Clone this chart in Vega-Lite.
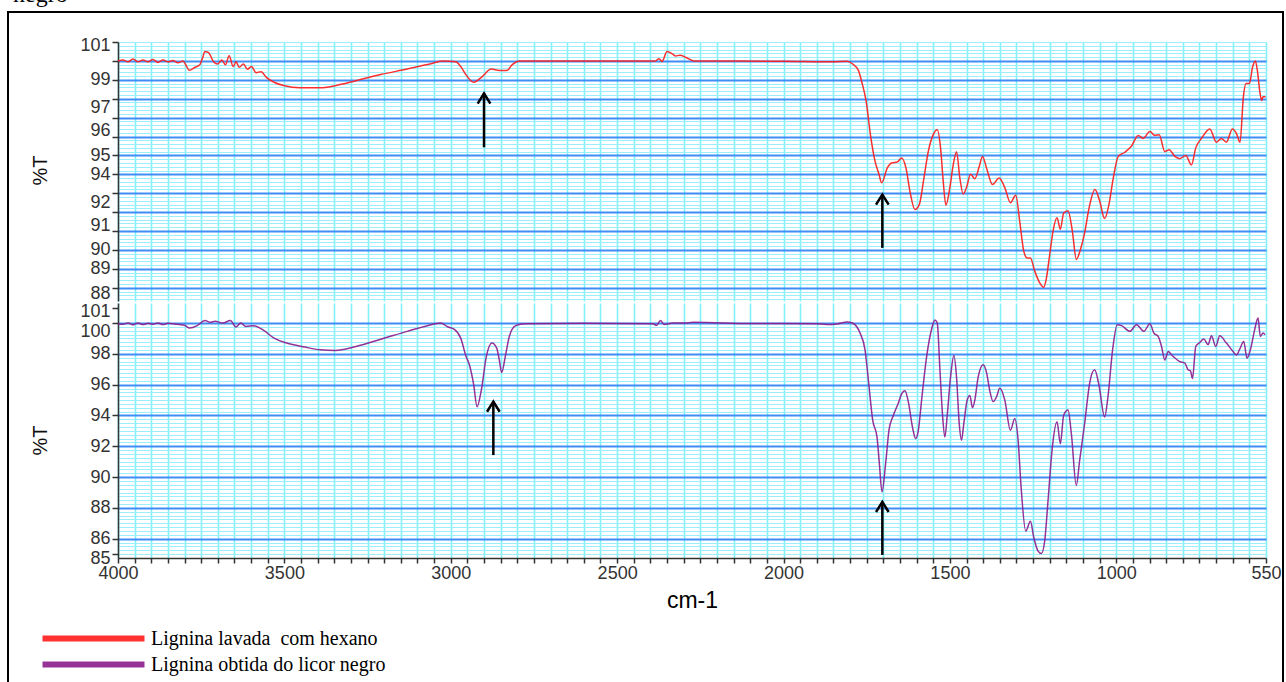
{
  "$schema": "https://vega.github.io/schema/vega-lite/v6.json",
  "width": 1275,
  "height": 671,
  "autosize": {"type": "none"},
  "padding": {"left": 8, "top": 12, "right": 3, "bottom": 0},
  "background": "white",
  "title": {"text": "negro", "anchor": "start", "frame": "group", "font": "Liberation Serif", "fontSize": 24, "fontWeight": "normal", "color": "black", "offset": 0, "baseline": "alphabetic", "dx": 5, "dy": 14},
  "config": {
    "view": {"stroke": "black", "strokeWidth": 2, "fill": "white"},
    "axis": {"labelFont": "Liberation Sans", "labelFontSize": 18, "labelColor": "#333", "titleFont": "Liberation Sans", "titleFontWeight": "normal", "titleColor": "#111", "tickColor": "#333", "domainColor": "#333", "labelOverlap": false, "labelFlush": false}
  },
  "datasets": {
    "top": [
      {"wn":4000,"T":100.0},{"wn":3985,"T":100.05},{"wn":3970,"T":99.95},{"wn":3955,"T":100.1},{"wn":3940,"T":99.95},{"wn":3925,"T":100.05},{"wn":3910,"T":99.95},{"wn":3895,"T":100.08},{"wn":3880,"T":99.92},{"wn":3865,"T":100.05},{"wn":3850,"T":99.95},{"wn":3835,"T":100.02},{"wn":3820,"T":99.9},{"wn":3805,"T":100.0},{"wn":3785,"T":99.5},{"wn":3770,"T":99.65},{"wn":3754,"T":99.8},{"wn":3745,"T":100.2},{"wn":3739,"T":100.5},{"wn":3728,"T":100.44},{"wn":3713,"T":99.96},{"wn":3700,"T":99.84},{"wn":3688,"T":100.05},{"wn":3677,"T":99.8},{"wn":3666,"T":100.27},{"wn":3654,"T":99.7},{"wn":3645,"T":99.95},{"wn":3636,"T":99.66},{"wn":3623,"T":99.84},{"wn":3611,"T":99.56},{"wn":3599,"T":99.7},{"wn":3585,"T":99.38},{"wn":3570,"T":99.43},{"wn":3554,"T":99.13},{"wn":3531,"T":98.87},{"wn":3500,"T":98.69},{"wn":3454,"T":98.58},{"wn":3393,"T":98.58},{"wn":3347,"T":98.69},{"wn":3285,"T":98.95},{"wn":3208,"T":99.29},{"wn":3131,"T":99.57},{"wn":3054,"T":99.88},{"wn":3024,"T":100.0},{"wn":2985,"T":99.96},{"wn":2970,"T":99.7},{"wn":2954,"T":99.26},{"wn":2931,"T":98.87},{"wn":2908,"T":99.13},{"wn":2878,"T":99.57},{"wn":2854,"T":99.49},{"wn":2831,"T":99.49},{"wn":2816,"T":99.79},{"wn":2793,"T":100.0},{"wn":2600,"T":100.0},{"wn":2385,"T":100.0},{"wn":2374,"T":100.12},{"wn":2365,"T":99.97},{"wn":2350,"T":100.5},{"wn":2334,"T":100.37},{"wn":2324,"T":100.26},{"wn":2311,"T":100.3},{"wn":2293,"T":100.18},{"wn":2270,"T":100.0},{"wn":2000,"T":99.98},{"wn":1850,"T":99.95},{"wn":1809,"T":99.98},{"wn":1793,"T":99.85},{"wn":1775,"T":99.5},{"wn":1765,"T":98.9},{"wn":1752,"T":97.9},{"wn":1738,"T":96.0},{"wn":1725,"T":94.7},{"wn":1713,"T":94.0},{"wn":1705,"T":93.55},{"wn":1688,"T":94.34},{"wn":1675,"T":94.6},{"wn":1658,"T":94.65},{"wn":1645,"T":94.87},{"wn":1632,"T":94.34},{"wn":1620,"T":93.1},{"wn":1605,"T":92.14},{"wn":1592,"T":92.4},{"wn":1578,"T":93.8},{"wn":1565,"T":95.2},{"wn":1550,"T":96.1},{"wn":1538,"T":96.36},{"wn":1528,"T":95.4},{"wn":1520,"T":93.63},{"wn":1512,"T":92.37},{"wn":1500,"T":93.3},{"wn":1490,"T":94.5},{"wn":1480,"T":95.2},{"wn":1470,"T":93.8},{"wn":1460,"T":92.96},{"wn":1450,"T":93.3},{"wn":1438,"T":94.0},{"wn":1425,"T":93.77},{"wn":1412,"T":94.4},{"wn":1402,"T":94.95},{"wn":1390,"T":94.34},{"wn":1372,"T":93.46},{"wn":1352,"T":93.8},{"wn":1335,"T":93.3},{"wn":1318,"T":92.5},{"wn":1302,"T":92.9},{"wn":1290,"T":91.5},{"wn":1278,"T":89.94},{"wn":1268,"T":89.58},{"wn":1258,"T":89.58},{"wn":1245,"T":88.88},{"wn":1230,"T":88.26},{"wn":1218,"T":88.03},{"wn":1210,"T":88.5},{"wn":1200,"T":89.76},{"wn":1190,"T":91.0},{"wn":1178,"T":91.7},{"wn":1168,"T":91.1},{"wn":1158,"T":91.96},{"wn":1145,"T":92.08},{"wn":1132,"T":91.0},{"wn":1120,"T":89.5},{"wn":1108,"T":90.0},{"wn":1095,"T":90.9},{"wn":1082,"T":92.2},{"wn":1064,"T":93.2},{"wn":1050,"T":92.6},{"wn":1035,"T":91.66},{"wn":1022,"T":92.4},{"wn":1009,"T":93.8},{"wn":994,"T":94.95},{"wn":974,"T":95.17},{"wn":954,"T":95.5},{"wn":934,"T":96.06},{"wn":919,"T":95.9},{"wn":899,"T":96.27},{"wn":884,"T":96.06},{"wn":871,"T":96.1},{"wn":854,"T":95.2},{"wn":841,"T":95.3},{"wn":824,"T":94.95},{"wn":809,"T":94.83},{"wn":791,"T":95.0},{"wn":774,"T":94.5},{"wn":761,"T":95.4},{"wn":744,"T":95.9},{"wn":719,"T":96.4},{"wn":699,"T":95.7},{"wn":684,"T":95.9},{"wn":669,"T":95.7},{"wn":651,"T":96.4},{"wn":639,"T":96.17},{"wn":628,"T":95.7},{"wn":618,"T":98.1},{"wn":610,"T":98.8},{"wn":600,"T":98.8},{"wn":590,"T":99.7},{"wn":582,"T":100.0},{"wn":576,"T":99.5},{"wn":568,"T":98.3},{"wn":563,"T":97.9},{"wn":559,"T":98.1},{"wn":551,"T":98.1}
    ],
    "bottom": [
      {"wn":4000,"T":99.96},{"wn":3985,"T":99.92},{"wn":3970,"T":100.0},{"wn":3955,"T":99.88},{"wn":3940,"T":100.0},{"wn":3925,"T":99.9},{"wn":3910,"T":99.98},{"wn":3895,"T":99.92},{"wn":3880,"T":100.0},{"wn":3865,"T":99.9},{"wn":3850,"T":99.98},{"wn":3835,"T":99.95},{"wn":3815,"T":99.9},{"wn":3800,"T":99.85},{"wn":3785,"T":99.67},{"wn":3762,"T":99.83},{"wn":3739,"T":100.17},{"wn":3723,"T":100.05},{"wn":3708,"T":100.12},{"wn":3685,"T":100.0},{"wn":3662,"T":100.17},{"wn":3646,"T":99.74},{"wn":3631,"T":100.0},{"wn":3616,"T":99.78},{"wn":3593,"T":99.83},{"wn":3562,"T":99.52},{"wn":3531,"T":99.02},{"wn":3493,"T":98.7},{"wn":3439,"T":98.44},{"wn":3393,"T":98.26},{"wn":3347,"T":98.22},{"wn":3285,"T":98.48},{"wn":3208,"T":98.96},{"wn":3131,"T":99.46},{"wn":3070,"T":99.83},{"wn":3031,"T":100.0},{"wn":3008,"T":99.74},{"wn":2990,"T":99.6},{"wn":2970,"T":99.02},{"wn":2954,"T":97.83},{"wn":2944,"T":97.29},{"wn":2931,"T":95.98},{"wn":2921,"T":94.57},{"wn":2908,"T":95.66},{"wn":2893,"T":97.83},{"wn":2876,"T":98.7},{"wn":2862,"T":98.37},{"wn":2854,"T":97.6},{"wn":2847,"T":96.79},{"wn":2836,"T":97.83},{"wn":2824,"T":99.13},{"wn":2805,"T":99.83},{"wn":2777,"T":99.96},{"wn":2600,"T":99.98},{"wn":2393,"T":99.96},{"wn":2381,"T":99.85},{"wn":2370,"T":100.17},{"wn":2359,"T":99.9},{"wn":2332,"T":100.0},{"wn":2301,"T":100.0},{"wn":2270,"T":100.05},{"wn":2100,"T":99.97},{"wn":1901,"T":99.96},{"wn":1870,"T":99.9},{"wn":1839,"T":99.94},{"wn":1809,"T":100.07},{"wn":1793,"T":100.0},{"wn":1770,"T":99.35},{"wn":1755,"T":98.26},{"wn":1744,"T":96.1},{"wn":1732,"T":93.7},{"wn":1719,"T":92.6},{"wn":1712,"T":90.9},{"wn":1704,"T":89.04},{"wn":1693,"T":90.9},{"wn":1683,"T":93.05},{"wn":1670,"T":94.0},{"wn":1655,"T":94.8},{"wn":1645,"T":95.4},{"wn":1635,"T":95.6},{"wn":1625,"T":94.9},{"wn":1612,"T":93.2},{"wn":1603,"T":92.5},{"wn":1595,"T":93.0},{"wn":1585,"T":95.0},{"wn":1570,"T":97.8},{"wn":1555,"T":99.6},{"wn":1545,"T":100.2},{"wn":1538,"T":100.0},{"wn":1530,"T":97.0},{"wn":1522,"T":94.0},{"wn":1515,"T":92.6},{"wn":1508,"T":94.0},{"wn":1498,"T":96.5},{"wn":1488,"T":97.9},{"wn":1480,"T":96.5},{"wn":1472,"T":93.5},{"wn":1465,"T":92.4},{"wn":1458,"T":93.5},{"wn":1448,"T":95.0},{"wn":1440,"T":95.3},{"wn":1432,"T":94.5},{"wn":1425,"T":95.0},{"wn":1415,"T":96.5},{"wn":1400,"T":97.3},{"wn":1390,"T":96.8},{"wn":1380,"T":95.6},{"wn":1370,"T":94.9},{"wn":1360,"T":95.2},{"wn":1350,"T":95.76},{"wn":1335,"T":95.0},{"wn":1318,"T":93.04},{"wn":1305,"T":93.8},{"wn":1295,"T":92.4},{"wn":1286,"T":89.35},{"wn":1272,"T":86.5},{"wn":1258,"T":87.13},{"wn":1248,"T":86.1},{"wn":1235,"T":85.2},{"wn":1225,"T":85.04},{"wn":1215,"T":85.87},{"wn":1205,"T":88.48},{"wn":1192,"T":91.96},{"wn":1178,"T":93.59},{"wn":1168,"T":92.17},{"wn":1158,"T":94.02},{"wn":1145,"T":94.35},{"wn":1135,"T":92.83},{"wn":1120,"T":89.46},{"wn":1110,"T":91.09},{"wn":1095,"T":93.48},{"wn":1080,"T":96.09},{"wn":1065,"T":96.96},{"wn":1052,"T":95.98},{"wn":1035,"T":93.9},{"wn":1025,"T":95.2},{"wn":1011,"T":98.26},{"wn":997,"T":99.89},{"wn":984,"T":99.83},{"wn":959,"T":99.46},{"wn":939,"T":99.89},{"wn":917,"T":99.46},{"wn":899,"T":99.96},{"wn":887,"T":99.35},{"wn":874,"T":99.13},{"wn":864,"T":98.48},{"wn":854,"T":97.6},{"wn":844,"T":98.15},{"wn":829,"T":97.83},{"wn":809,"T":97.5},{"wn":794,"T":97.4},{"wn":784,"T":96.96},{"wn":777,"T":96.9},{"wn":771,"T":96.4},{"wn":761,"T":98.48},{"wn":749,"T":98.74},{"wn":737,"T":98.96},{"wn":724,"T":98.6},{"wn":714,"T":99.17},{"wn":701,"T":98.48},{"wn":689,"T":99.17},{"wn":669,"T":98.7},{"wn":649,"T":98.15},{"wn":639,"T":97.93},{"wn":629,"T":98.3},{"wn":617,"T":98.8},{"wn":607,"T":97.72},{"wn":597,"T":98.26},{"wn":584,"T":99.57},{"wn":574,"T":100.33},{"wn":567,"T":99.13},{"wn":559,"T":99.35},{"wn":553,"T":99.24}
    ],
    "topArrows": [{"wn": 2900, "tip": 98.28, "tail": 95.43}, {"wn": 1703, "tip": 92.93, "tail": 90.11}],
    "bottomArrows": [{"wn": 2872, "tip": 94.9, "tail": 91.43}, {"wn": 1703, "tip": 88.39, "tail": 84.95}]
  },
  "layer": [
    {
      "data": {"name": "top"},
      "mark": {"type": "line", "strokeOpacity": 0},
      "encoding": {
        "x": {"field": "wn", "type": "quantitative", "scale": {"domain": [4000, 550], "range": [110, 1258], "nice": false, "zero": false},
              "axis": {"orient": "top", "grid": true, "gridColor": "#80f2fc", "gridWidth": 1.6, "ticks": false, "labels": false, "domain": false, "title": null, "tickCount": 70}},
        "y": {"field": "T", "type": "quantitative", "scale": {"domain": [87.3, 101], "range": [289, 30], "nice": false, "zero": false},
              "axis": {"orient": "left", "offset": -110, "grid": true, "gridColor": "#9ceefa", "gridWidth": 1, "ticks": false, "labels": false, "domain": false, "title": null, "tickCount": 70}}
      }
    },
    {
      "data": {"name": "top"},
      "mark": {"type": "line", "strokeOpacity": 0},
      "encoding": {
        "x": {"field": "wn", "type": "quantitative", "scale": {"domain": [4000, 550], "range": [110, 1258], "nice": false, "zero": false}, "axis": null},
        "y": {"field": "T", "type": "quantitative", "scale": {"domain": [87.3, 101], "range": [289, 30], "nice": false, "zero": false},
              "axis": {"orient": "left", "offset": -110, "grid": true, "gridColor": "#3f8ef5", "gridWidth": 2, "ticks": false, "labels": false, "domain": false, "title": null, "values": [88, 89, 90, 91, 92, 93, 94, 95, 96, 97, 98, 99, 100]}}
      }
    },
    {
      "data": {"name": "top"},
      "mark": {"type": "line", "strokeWidth": 1.5, "interpolate": "monotone", "opacity": 0.9},
      "encoding": {
        "x": {"field": "wn", "type": "quantitative", "scale": {"domain": [4000, 550], "range": [110, 1258], "nice": false, "zero": false}, "axis": null},
        "y": {"field": "T", "type": "quantitative", "scale": {"domain": [87.3, 101], "range": [289, 30], "nice": false, "zero": false},
              "axis": {"orient": "left", "offset": -110, "grid": false, "values": [88, 89, 90, 91, 92, 93, 94, 95, 96, 97, 98, 99, 100, 101], "format": "d",
                       "labelExpr": "datum.value == 100 || datum.value == 98 || datum.value == 93 ? '' : datum.label",
                       "labelOffset": {"condition": [{"test": "datum.value == 97 || datum.value == 92", "value": -10}, {"test": "datum.value == 96 || datum.value == 91", "value": -6}, {"test": "datum.value == 88", "value": 6}, {"test": "datum.value == 101", "value": 3}], "value": 0},
                       "tickSize": 6, "tickWidth": 1.5, "domainWidth": 1.5, "labelPadding": 2,
                       "title": "%T", "titleFontSize": 20, "titleX": -78, "titleY": 158, "titleBaseline": "middle", "titleAlign": "center", "titleAngle": -90}},
        "color": {"datum": "Lignina lavada\u00a0 com hexano", "type": "nominal",
                  "scale": {"domain": ["Lignina lavada\u00a0 com hexano", "Lignina obtida do licor negro"], "range": ["#ff1a1a", "#8c1c8c"]},
                  "legend": {"title": null, "orient": "none", "legendX": 72, "legendY": 613, "symbolType": "M-5,0H5", "symbolSize": 416, "symbolStrokeWidth": 6, "symbolOpacity": 1, "symbolFillColor": "transparent", "labelFont": "Liberation Serif", "labelFontSize": 20, "labelColor": "black", "labelOffset": 44, "rowPadding": -2, "padding": 0, "labelLimit": 400}}
      }
    },
    {
      "data": {"name": "topArrows"},
      "layer": [
        {"mark": {"type": "rule", "color": "black", "strokeWidth": 2.5},
         "encoding": {
           "x": {"field": "wn", "type": "quantitative", "scale": {"domain": [4000, 550], "range": [110, 1258], "nice": false, "zero": false}, "axis": null},
           "y": {"field": "tip", "type": "quantitative", "scale": {"domain": [87.3, 101], "range": [289, 30], "nice": false, "zero": false}, "axis": null},
           "y2": {"field": "tail"}
         }},
        {"mark": {"type": "point", "shape": "M-1,1.6L0,0L1,1.6", "filled": false, "stroke": "black", "strokeWidth": 2.5, "size": 160, "opacity": 1},
         "encoding": {
           "x": {"field": "wn", "type": "quantitative", "scale": {"domain": [4000, 550], "range": [110, 1258], "nice": false, "zero": false}, "axis": null},
           "y": {"field": "tip", "type": "quantitative", "scale": {"domain": [87.3, 101], "range": [289, 30], "nice": false, "zero": false}, "axis": null}
         }}
      ]
    },
    {
      "data": {"name": "bottom"},
      "mark": {"type": "line", "strokeOpacity": 0},
      "encoding": {
        "x": {"field": "wn", "type": "quantitative", "scale": {"domain": [4000, 550], "range": [110, 1258], "nice": false, "zero": false},
              "axis": {"orient": "top", "grid": true, "gridColor": "#80f2fc", "gridWidth": 1.6, "ticks": false, "labels": false, "domain": false, "title": null, "tickCount": 70}},
        "y": {"field": "T", "type": "quantitative", "scale": {"domain": [84.75, 101.3], "range": [546, 291], "nice": false, "zero": false},
              "axis": {"orient": "left", "offset": -110, "grid": true, "gridColor": "#9ceefa", "gridWidth": 1, "ticks": false, "labels": false, "domain": false, "title": null,
                       "values": [85, 85.25, 85.5, 85.75, 86, 86.25, 86.5, 86.75, 87, 87.25, 87.5, 87.75, 88, 88.25, 88.5, 88.75, 89, 89.25, 89.5, 89.75, 90, 90.25, 90.5, 90.75, 91, 91.25, 91.5, 91.75, 92, 92.25, 92.5, 92.75, 93, 93.25, 93.5, 93.75, 94, 94.25, 94.5, 94.75, 95, 95.25, 95.5, 95.75, 96, 96.25, 96.5, 96.75, 97, 97.25, 97.5, 97.75, 98, 98.25, 98.5, 98.75, 99, 99.25, 99.5, 99.75, 100]}}
      }
    },
    {
      "data": {"name": "bottom"},
      "mark": {"type": "line", "strokeOpacity": 0},
      "encoding": {
        "x": {"field": "wn", "type": "quantitative", "scale": {"domain": [4000, 550], "range": [110, 1258], "nice": false, "zero": false}, "axis": null},
        "y": {"field": "T", "type": "quantitative", "scale": {"domain": [84.75, 101.3], "range": [546, 291], "nice": false, "zero": false},
              "axis": {"orient": "left", "offset": -110, "grid": true, "gridColor": "#3f8ef5", "gridWidth": 2, "ticks": false, "labels": false, "domain": false, "title": null, "values": [86, 88, 90, 92, 94, 96, 98, 100]}}
      }
    },
    {
      "data": {"name": "bottom"},
      "mark": {"type": "line", "strokeWidth": 1.5, "interpolate": "monotone", "opacity": 0.9},
      "encoding": {
        "x": {"field": "wn", "type": "quantitative", "scale": {"domain": [4000, 550], "range": [110, 1258], "nice": false, "zero": false},
              "axis": {"orient": "bottom", "offset": -125, "grid": false, "tickCount": 70, "format": "d",
                       "labelExpr": "datum.value % 500 == 0 || datum.value == 550 ? datum.label : ''",
                       "tickSize": 5, "tickWidth": 1.5, "domainWidth": 1.5, "labelPadding": 1,
                       "title": "cm-1", "titleFontSize": 23, "titleColor": "black", "titleY": 42, "titleBaseline": "middle"}},
        "y": {"field": "T", "type": "quantitative", "scale": {"domain": [84.75, 101.3], "range": [546, 291], "nice": false, "zero": false},
              "axis": {"orient": "left", "offset": -110, "grid": false, "values": [85, 86, 88, 90, 92, 94, 96, 98, 100, 101], "format": "d",
                       "labelOffset": {"condition": [{"test": "datum.value == 100", "value": 8}, {"test": "datum.value == 101 || datum.value == 85", "value": 4}], "value": 0},
                       "tickSize": 6, "tickWidth": 1.5, "domainWidth": 1.5, "labelPadding": 2,
                       "title": "%T", "titleFontSize": 20, "titleX": -78, "titleY": 428, "titleBaseline": "middle", "titleAlign": "center", "titleAngle": -90}},
        "color": {"datum": "Lignina obtida do licor negro", "type": "nominal",
                  "scale": {"domain": ["Lignina lavada\u00a0 com hexano", "Lignina obtida do licor negro"], "range": ["#ff1a1a", "#8c1c8c"]}}
      }
    },
    {
      "data": {"name": "bottomArrows"},
      "layer": [
        {"mark": {"type": "rule", "color": "black", "strokeWidth": 2.5},
         "encoding": {
           "x": {"field": "wn", "type": "quantitative", "scale": {"domain": [4000, 550], "range": [110, 1258], "nice": false, "zero": false}, "axis": null},
           "y": {"field": "tip", "type": "quantitative", "scale": {"domain": [84.75, 101.3], "range": [546, 291], "nice": false, "zero": false}, "axis": null},
           "y2": {"field": "tail"}
         }},
        {"mark": {"type": "point", "shape": "M-1,1.6L0,0L1,1.6", "filled": false, "stroke": "black", "strokeWidth": 2.5, "size": 160, "opacity": 1},
         "encoding": {
           "x": {"field": "wn", "type": "quantitative", "scale": {"domain": [4000, 550], "range": [110, 1258], "nice": false, "zero": false}, "axis": null},
           "y": {"field": "tip", "type": "quantitative", "scale": {"domain": [84.75, 101.3], "range": [546, 291], "nice": false, "zero": false}, "axis": null}
         }}
      ]
    }
  ],
  "resolve": {"scale": {"x": "independent", "y": "independent"}, "axis": {"x": "independent", "y": "independent"}}
}
